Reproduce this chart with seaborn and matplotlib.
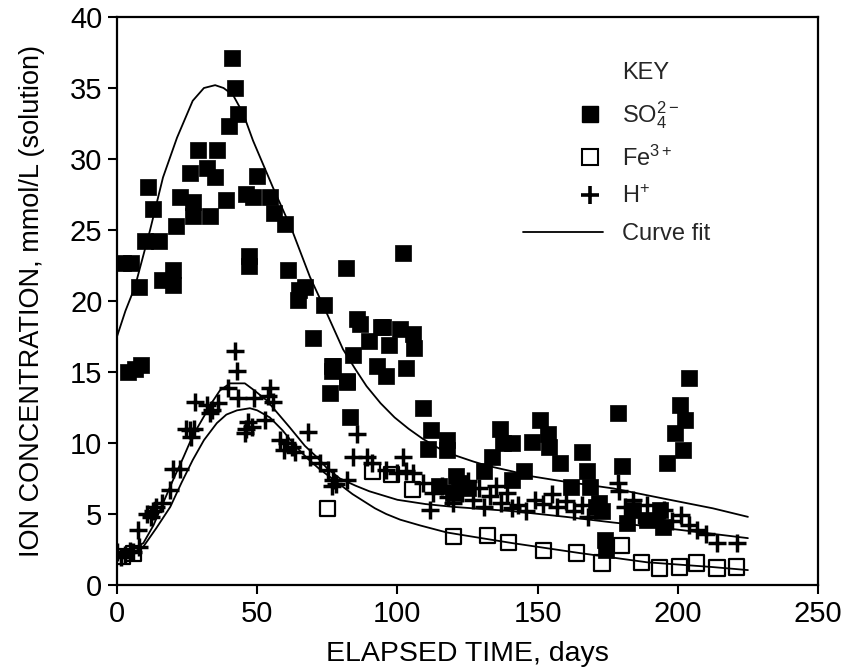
import numpy as np
import pandas as pd
import matplotlib
matplotlib.use("Agg")
import matplotlib.pyplot as plt
import seaborn as sns
from matplotlib.lines import Line2D
from matplotlib.legend_handler import HandlerLine2D

# ---------------- data ----------------
so4_days = [2, 5, 4, 6.5, 8.5, 8, 10, 15, 13, 11, 20, 16, 20, 21, 22.5, 27, 27, 33, 26, 32,
            35, 29, 35.6, 39, 40, 43, 41, 42, 50, 46, 48.5, 54.5, 56, 60, 47, 47, 61, 65, 67, 64.5,
            74, 70, 76.6, 102, 81.6, 85.5, 90, 97, 94, 105.5, 106, 101, 84, 76.5, 82, 76, 92.6, 96,
            103, 83, 109, 112, 117.6, 111, 117.6, 136.5, 151, 153.6, 137.6, 141, 148, 154, 133.7,
            131, 145, 121, 158, 166, 167.5, 162, 168.6, 178.6, 180, 172, 173, 184, 193.6, 189,
            194.6, 182, 196, 199, 200.7, 202.5, 202, 204, 174, 174.5, 115, 120, 125, 122, 171, 141,
            86.6, 95, 77, 82]
so4_vals = [22.7, 22.7, 15.0, 15.2, 15.5, 21.0, 24.2, 24.2, 26.5, 28.0, 22.2, 21.5, 21.1, 25.3,
            27.3, 27.0, 26.0, 26.0, 29.0, 29.4, 28.7, 30.6, 30.6, 27.1, 32.3, 33.2, 37.1, 35.0,
            28.8, 27.5, 27.3, 27.3, 26.2, 25.4, 23.2, 22.5, 22.2, 20.8, 21.0, 20.1, 19.7, 17.4,
            15.1, 23.4, 22.3, 18.7, 17.2, 16.9, 18.2, 17.7, 16.7, 18.0, 16.2, 15.4, 14.3, 13.5,
            15.4, 14.7, 15.3, 11.8, 12.5, 10.9, 10.2, 9.6, 9.5, 11.0, 11.6, 10.6, 10.0, 10.0, 10.1,
            9.7, 9.0, 8.0, 8.0, 7.7, 8.6, 9.4, 8.0, 6.9, 6.9, 12.1, 8.4, 5.8, 5.2, 5.3, 5.3, 4.6,
            4.1, 4.4, 8.6, 10.7, 12.7, 11.6, 9.5, 14.6, 3.2, 2.5, 7.0, 6.5, 6.8, 7.2, 5.5, 7.4,
            18.4, 18.2, 15.4, 14.4]

fe_days = [2, 6, 75, 91, 98, 105.5, 120, 132, 139.5, 152, 164, 173, 180, 187, 193.6, 200.7,
           206.8, 214, 221]
fe_vals = [2.0, 2.2, 5.4, 8.0, 7.8, 6.7, 3.4, 3.5, 3.0, 2.45, 2.25, 1.55, 2.8, 1.6, 1.2, 1.27,
           1.55, 1.2, 1.27]

h_days = [0, 1.5, 3, 4.5, 5.8, 8, 7.6, 10.6, 13, 14, 16, 12, 19, 20, 22.5, 24.6, 26, 27.5, 26.5,
          27.8, 32, 34, 36, 33, 39.6, 43, 49, 54.5, 55.6, 54, 46.7, 48, 45.6, 46, 52.8, 58, 60.6,
          62.4, 63.5, 59.5, 68, 68.8, 72.4, 75.2, 77, 78, 42, 42.7, 85.5, 84, 89, 91, 96, 100, 82,
          76.5, 102, 103, 105.6, 109, 112.6, 111.6, 116, 118, 120, 123, 125, 127, 129, 131, 133,
          135, 137, 139, 141, 143, 146, 149, 152, 155, 157, 160, 163, 166, 168, 178.6, 179, 181,
          184, 186, 189, 192, 195, 198, 201, 204, 207, 210, 214, 221]
h_vals = [2.3, 2.0, 2.1, 2.4, 2.3, 2.7, 3.9, 5.0, 5.2, 5.5, 5.8, 4.8, 6.7, 8.2, 8.2, 11.0, 10.9,
          11.0, 10.4, 12.9, 12.7, 12.3, 12.8, 12.1, 13.9, 13.2, 13.2, 13.9, 12.9, 13.3, 11.5, 11.1,
          10.7, 11.0, 11.6, 10.2, 10.0, 9.7, 9.4, 9.5, 10.8, 9.0, 8.6, 8.1, 7.4, 7.1, 16.5, 15.1,
          10.6, 9.0, 9.0, 8.6, 8.1, 7.9, 7.4, 7.0, 9.0, 8.0, 7.9, 7.2, 6.5, 5.3, 7.0, 6.2, 5.8,
          6.5, 7.3, 6.0, 6.8, 5.5, 6.3, 7.0, 5.8, 6.5, 5.4, 5.6, 5.2, 6.0, 5.7, 6.4, 5.5, 5.9, 5.2,
          5.6, 4.8, 7.2, 6.6, 5.5, 6.0, 4.9, 5.6, 4.7, 5.3, 4.5, 4.9, 4.2, 3.9, 3.6, 2.95, 2.95]

# curve fits
so4_fit_days = [0, 3, 6.4, 11.8, 16.4, 21.4, 27, 31, 35, 38, 41.4, 45, 48.5, 55.6, 62.4, 68.8,
                74.9, 80.6, 85, 89, 94, 99, 104, 109, 115, 121, 127, 132, 141, 148, 159, 177,
                194.6, 212.5, 225]
so4_fit_vals = [17.5, 19.3, 21.0, 25.0, 28.7, 31.5, 34.1, 35.0, 35.2, 35.0, 34.5, 33.2, 31.3,
                28.0, 25.0, 21.7, 19.1, 16.6, 15.2, 14.0, 12.8, 11.8, 11.0, 10.3, 9.6, 9.1, 8.7,
                8.4, 8.0, 7.65, 7.3, 6.8, 6.1, 5.4, 4.8]
h_fit_days = [0.5, 5, 9.4, 13, 16.5, 20, 23.7, 27, 30.8, 34, 36.7, 40.3, 45.6, 49, 53.4, 61.6,
              67, 71.3, 75, 79.5, 85, 90, 95, 100, 110, 120, 141, 160, 177, 200, 225]
h_fit_vals = [2.25, 2.5, 2.95, 4.2, 5.8, 7.4, 9.0, 10.5, 11.8, 12.9, 13.7, 14.2, 14.2, 13.7, 13.0,
              11.1, 9.8, 9.0, 8.2, 7.5, 7.0, 6.6, 6.3, 6.0, 5.7, 5.5, 5.2, 4.8, 4.4, 3.9, 3.3]
fe_fit_days = [0.5, 5, 9.4, 14, 19, 23, 27, 31, 35.6, 39, 42.8, 47.4, 50, 54.5, 59, 64, 68, 72,
               76, 80, 84, 88, 92, 96, 101, 108, 117.6, 130, 141, 165, 189, 212, 225]
fe_fit_vals = [2.0, 2.2, 2.7, 4.0, 5.5, 7.2, 8.8, 10.2, 11.4, 12.0, 12.3, 12.45, 12.3, 11.8, 10.9,
               9.7, 8.9, 8.2, 7.6, 7.0, 6.4, 5.9, 5.4, 5.0, 4.6, 4.2, 3.7, 3.3, 2.95, 2.25, 1.6,
               1.27, 1.05]

x_ticks = [0, 50, 100, 150, 200, 250]
y_ticks = [0, 5, 10, 15, 20, 25, 30, 35, 40]

# ---------------- styling ----------------
sns.set_theme(style="ticks")
plt.rcParams["font.family"] = ["Liberation Sans", "DejaVu Sans"]
plt.rcParams["mathtext.fontset"] = "custom"
plt.rcParams["mathtext.rm"] = "Liberation Sans"
plt.rcParams["mathtext.it"] = "Liberation Sans:italic"
plt.rcParams["mathtext.bf"] = "Liberation Sans:bold"
plt.rcParams["mathtext.default"] = "regular"

fig = plt.figure(figsize=(8.44, 6.71), dpi=100)
ax = fig.add_axes([117 / 844, 1 - 585 / 671, (818 - 117) / 844, (585 - 17) / 671])

so4_df = pd.DataFrame({"day": so4_days, "val": so4_vals})
fe_df = pd.DataFrame({"day": fe_days, "val": fe_vals})
h_df = pd.DataFrame({"day": h_days, "val": h_vals})

for d, v in [(so4_fit_days, so4_fit_vals), (h_fit_days, h_fit_vals), (fe_fit_days, fe_fit_vals)]:
    sns.lineplot(x=d, y=v, ax=ax, color="black", linewidth=1.3, sort=False,
                 estimator=None, zorder=2)

sns.scatterplot(data=so4_df, x="day", y="val", ax=ax, marker="s", s=125, color="black",
                edgecolor="black", linewidth=0.5, zorder=3)
sns.scatterplot(data=fe_df, x="day", y="val", ax=ax, marker="s", s=120, facecolor="none",
                edgecolor="black", linewidth=1.6, zorder=3)
sns.scatterplot(data=h_df, x="day", y="val", ax=ax, marker="+", s=170, color="black",
                linewidth=2.5, zorder=3)

ax.set_xlim(0, 250)
ax.set_ylim(0, 40)
ax.set_xticks(x_ticks)
ax.set_yticks(y_ticks)
ax.tick_params(axis="both", direction="out", length=6.5, width=1.5, labelsize=21, pad=4,
               colors="black")
for sp in ax.spines.values():
    sp.set_visible(True)
    sp.set_linewidth(1.6)
    sp.set_color("black")

ax.set_xlabel("ELAPSED TIME, days", fontsize=20.5, labelpad=10, color="black")
ax.set_ylabel("ION CONCENTRATION, mmol/L (solution)", fontsize=19.5, labelpad=18, color="black")


class RightMarker(HandlerLine2D):
    def get_xdata(self, legend, xdescent, ydescent, width, height, fontsize):
        x = -xdescent + width - 0.55 * fontsize
        return np.array([x, x]), np.array([x])


h_key = Line2D([], [], linestyle="None", marker="None")
h_so4 = Line2D([], [], linestyle="None", marker="s", markersize=11, color="black")
h_fe = Line2D([], [], linestyle="None", marker="s", markersize=11, markerfacecolor="white",
              markeredgecolor="black", markeredgewidth=1.5)
h_h = Line2D([], [], linestyle="None", marker="+", markersize=13, markeredgewidth=2.6,
             color="black")
h_fit = Line2D([], [], color="black", linewidth=1.3)

leg = ax.legend([h_key, h_so4, h_fe, h_h, h_fit],
                ["KEY", "SO$_4^{2-}$", "Fe$^{3+}$", "H$^{+}$", "Curve fit"],
                loc="upper left", bbox_to_anchor=(0.579, 0.92), frameon=False, fontsize=17,
                handlelength=3.4, handletextpad=0.8, labelspacing=0.62, borderpad=0,
                borderaxespad=0,
                handler_map={h_key: RightMarker(), h_so4: RightMarker(), h_fe: RightMarker(),
                             h_h: RightMarker()})

fig.savefig("out.png", dpi=100)
